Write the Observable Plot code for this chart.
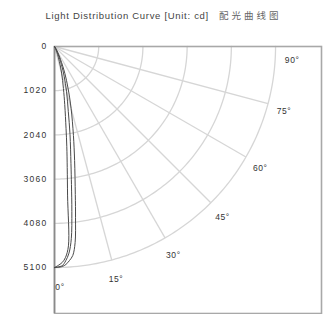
<!DOCTYPE html>
<html><head><meta charset="utf-8">
<script src="https://cdn.jsdelivr.net/npm/d3@7"></script>
<script src="https://cdn.jsdelivr.net/npm/@observablehq/plot@0.6"></script>
<style>
body{margin:0;background:#fff;font-family:"Liberation Sans",Arial,sans-serif;}
#title{height:28px;line-height:30px;text-align:center;font-size:9.5px;color:#444;letter-spacing:0.7px;white-space:nowrap;}
#title .zh{font-family:"Noto Sans CJK SC";letter-spacing:3px;margin-left:10px;color:#666;}
g[aria-label="y-axis tick label"] text{letter-spacing:1.3px;}
g[aria-label="text"] text{letter-spacing:0.6px;}
</style></head><body>
<div id="title">Light Distribution Curve [Unit: cd]<span class="zh">配光曲线图</span></div>
<div id="chart"></div>
<script>
const radii = [0, 1020, 2040, 3060, 4080, 5100];
const angleTicks = [0, 15, 30, 45, 60, 75, 90];
const angles = [0, 2, 3, 4, 5, 6, 7, 8, 10, 12, 15, 18, 21, 25, 30, 35, 40];
const planeA = [5100, 5080, 5035, 4950, 4840, 4550, 3980, 3450, 2670, 2100, 1480, 1010, 670, 330, 120, 30, 0];
const planeB = [5100, 5060, 4950, 4780, 4450, 3830, 3210, 2730, 2060, 1530, 1075, 720, 445, 200, 60, 10, 0];
const planeC = [5100, 4990, 4870, 4610, 3460, 2810, 2330, 1915, 1360, 990, 635, 365, 195, 80, 20, 0, 0];

const rad = d => d * Math.PI / 180;
const maxR = radii[radii.length - 1];

const arcs = [];
for (const r of radii.slice(1)) {
  for (let a = 0; a <= 90; a += 1) arcs.push({r, x: r * Math.sin(rad(a)), y: r * Math.cos(rad(a))});
}
const spokes = angleTicks.slice(1, -1).map(a => ({a, x2: maxR * Math.sin(rad(a)), y2: maxR * Math.cos(rad(a))}));
const curves = [];
[["A", planeA], ["B", planeB], ["C", planeC]].forEach(([p, vals]) => {
  angles.forEach((a, i) => curves.push({p, x: vals[i] * Math.sin(rad(a)), y: vals[i] * Math.cos(rad(a))}));
});
const labR = maxR * 1.075;
const labels = angleTicks.map(a => ({a,
  x: Math.max(labR * Math.sin(rad(a)), maxR * 0.025),
  y: Math.max(labR * Math.cos(rad(a)), maxR * 0.05)}));

const chart = Plot.plot({
  width: 327, height: 286,
  marginLeft: 54, marginRight: 6, marginTop: 18, marginBottom: 1,
  x: {domain: [0, 6160], axis: null},
  y: {domain: [0, 6160], reverse: true, axis: null},
  style: {fontFamily: "Liberation Sans, Arial, sans-serif", background: "#fff"},
  marks: [
    Plot.line(arcs, {x: "x", y: "y", z: "r", stroke: "#d6d6d6", strokeWidth: 1.3}),
    Plot.link(spokes, {x1: 0, y1: 0, x2: "x2", y2: "y2", stroke: "#d6d6d6", strokeWidth: 1.3}),
    Plot.frame({stroke: "#a8a8a8", strokeWidth: 1.6}),
    Plot.ruleX([0], {stroke: "#8a8a8a", strokeWidth: 1.6}),
    Plot.line(curves, {x: "x", y: "y", z: "p", stroke: "#4a4a4a", strokeWidth: 1, curve: "catmull-rom"}),
    Plot.text(labels, {x: "x", y: "y", text: d => d.a + "°", fontSize: 8.5, fill: "#333", textAnchor: "middle", dy: 3}),
    Plot.axisY({ticks: radii, tickSize: 0, tickPadding: 7, fontSize: 8.5, tickFormat: d => String(d), label: null, color: "#333"})
  ]
});
document.getElementById("chart").appendChild(chart);
</script>
</body></html>
